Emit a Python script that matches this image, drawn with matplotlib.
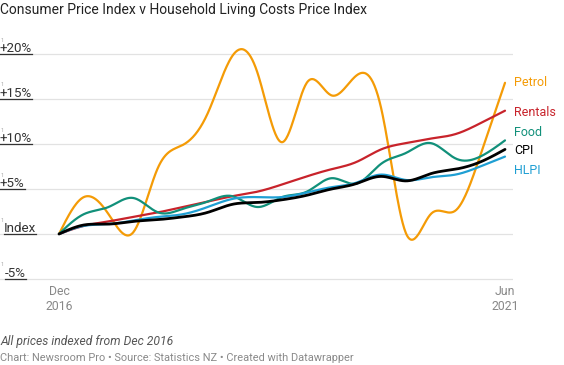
import numpy as np
import matplotlib
matplotlib.use('Agg')
import matplotlib.pyplot as plt
from matplotlib.lines import Line2D

plt.rcParams['font.family'] = ['Roboto', 'DejaVu Sans']

# Quarterly data, % change since Dec 2016 (Dec 2016 .. Jun 2021)
quarters = np.arange(19)
petrol = [0, 4.1, 2.2, 0.2, 7.4, 9.9, 13.4, 19.8, 18.0, 10.2, 16.8, 15.4, 17.6,
          14.0, 0.1, 2.2, 2.6, 8.7, 16.8]
rentals = [0, 0.9, 1.4, 1.9, 2.4, 3.0, 3.6, 4.2, 4.7, 5.5, 6.4, 7.2, 8.0,
           9.4, 10.1, 10.6, 11.1, 12.3, 13.7]
food = [0, 2.2, 3.0, 4.0, 2.4, 2.8, 3.6, 4.2, 3.0, 4.1, 4.7, 6.2, 5.6,
        7.8, 9.0, 10.1, 8.4, 8.6, 10.4]
cpi = [0, 1.0, 1.1, 1.4, 1.6, 1.9, 2.4, 3.3, 3.5, 3.8, 4.3, 5.0, 5.6,
       6.4, 5.9, 6.7, 7.2, 8.0, 9.4]
hlpi = [0, 0.9, 1.1, 1.5, 1.9, 2.2, 3.0, 3.9, 4.1, 4.1, 4.6, 5.2, 5.7,
        6.6, 6.0, 6.3, 6.6, 7.5, 8.6]

y_ticks = [20, 15, 10, 5, 0, -5]
y_labels = ['+20%', '+15%', '+10%', '+5%', 'Index', '-5%']
x_tick_pos = [0, 18]
x_tick_labels = ['Dec\n2016', 'Jun\n2021']

SERIES = [
    ('Petrol', petrol, '#f49b06', 1.6, 83),
    ('Rentals', rentals, '#c8232b', 1.6, 112),
    ('Food', food, '#11907a', 1.6, 132),
    ('HLPI', hlpi, '#1f9fd3', 1.6, 170),
    ('CPI', cpi, '#000000', 2.0, 151),
]


def natural_spline(x, y, n=30):
    x = np.asarray(x, float)
    y = np.asarray(y, float)
    k = len(x)
    h = np.diff(x)
    A = np.zeros((k, k))
    b = np.zeros(k)
    A[0, 0] = A[-1, -1] = 1
    for i in range(1, k - 1):
        A[i, i - 1] = h[i - 1]
        A[i, i] = 2 * (h[i - 1] + h[i])
        A[i, i + 1] = h[i]
        b[i] = 6 * ((y[i + 1] - y[i]) / h[i] - (y[i] - y[i - 1]) / h[i - 1])
    M = np.linalg.solve(A, b)
    xs, ys = [], []
    for i in range(k - 1):
        t = np.linspace(x[i], x[i + 1], n, endpoint=False)
        a = (x[i + 1] - t) / h[i]
        c = (t - x[i]) / h[i]
        s = (a * y[i] + c * y[i + 1]
             + ((a ** 3 - a) * M[i] + (c ** 3 - c) * M[i + 1]) * h[i] ** 2 / 6)
        xs.append(t)
        ys.append(s)
    xs.append([x[-1]])
    ys.append([y[-1]])
    return np.concatenate(xs), np.concatenate(ys)


W, H = 564, 365
fig = plt.figure(figsize=(W / 100, H / 100), dpi=100)
fig.patch.set_facecolor('white')

# axes spans px x 0..513, y 40..285
px_per_q = (505 - 59) / 18
px_per_pct = 9.0
ax = fig.add_axes([0, 1 - 285 / H, 513 / W, 245 / H])
ax.set_xlim(-59 / px_per_q, 18 + 8 / px_per_q)
ax.set_ylim(-5 - 6 / px_per_pct, 20 + 14 / px_per_pct)
ax.axis('off')

for v in y_ticks:
    ax.axhline(v, color='#e2e2e2', lw=0.9, zorder=0)

for name, vals, color, lw, ly in SERIES:
    xs, ys = natural_spline(quarters, vals)
    ax.plot(xs, ys, color=color, lw=lw, solid_capstyle='round', zorder=3,
            clip_on=False)
    fig.text(514 / W, 1 - ly / H, name, color=color, fontsize=9,
             ha='left', va='center')

# y labels (underlined, sitting on gridlines)
label_x = {'Index': 4, '-5%': 5}
ylabel_texts = []
for v, lab in zip(y_ticks, y_labels):
    gy = 234 - v * px_per_pct
    x0 = label_x.get(lab, 0)
    t = fig.text(x0 / W, 1 - (gy - 1.6) / H, lab, color='#333333',
                 fontsize=9.6, ha='left', va='baseline')
    fig.text(1 / W, 1 - (gy - 12.5) / H, '1', color='#a8a8a8',
             fontsize=4.2, ha='left', va='baseline')
    ylabel_texts.append((t, gy, x0))

for xp, lab in zip(x_tick_pos, x_tick_labels):
    ax.text(xp, -5 - 6 / px_per_pct, lab, color='#888888', fontsize=8.8,
            ha='center', va='top', linespacing=1.25)

fig.text(0, 1 - 10 / H, 'Consumer Price Index v Household Living Costs Price Index',
         color='#222222', fontsize=10, ha='left', va='center')
fig.text(0, 1 - 341 / H, 'All prices indexed from Dec 2016', color='#555555',
         fontsize=8.7, style='italic', ha='left', va='center')
fig.text(0, 1 - 358 / H,
         'Chart: Newsroom Pro \u2022 Source: Statistics NZ \u2022 Created with Datawrapper',
         color='#8a8a8a', fontsize=7.9, ha='left', va='center')

fig.canvas.draw()
renderer = fig.canvas.get_renderer()
for t, gy, x0 in ylabel_texts:
    bb = t.get_window_extent(renderer)
    fig.add_artist(Line2D([x0 / W, bb.x1 / W], [1 - gy / H, 1 - gy / H],
                          color='#333333', lw=0.9, transform=fig.transFigure))

fig.savefig('out.png', dpi=100, facecolor='white')
